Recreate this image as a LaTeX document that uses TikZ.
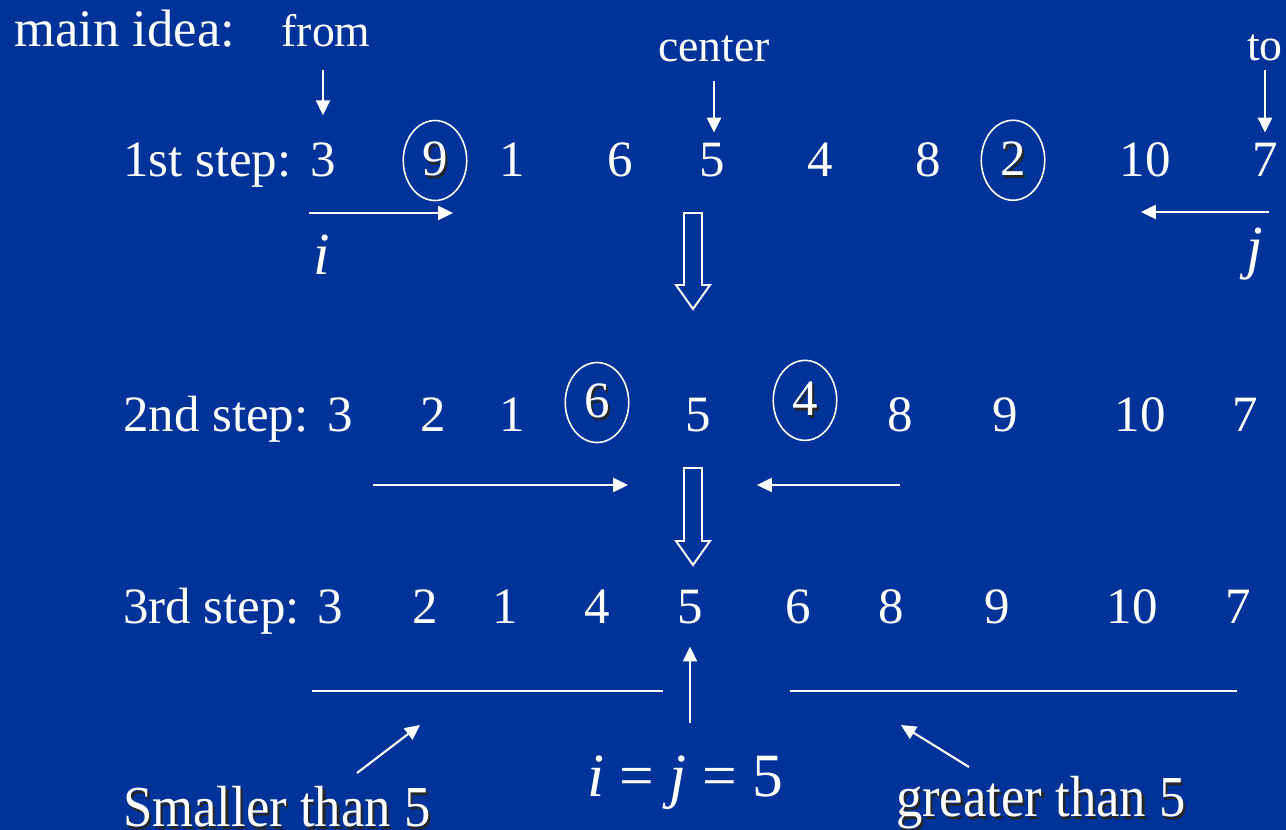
\documentclass[tikz,border=0pt]{standalone}
\usepackage{fontspec}
\setmainfont{Liberation Serif}
\usepackage{graphicx}
\usetikzlibrary{arrows.meta, shapes.geometric}
\definecolor{bgblue}{RGB}{0,51,153}
\tikzstyle{every node}=[text=white, inner sep=0pt, anchor=base]
\tikzstyle{lbl}=[font=\fontsize{29}{34}\selectfont, anchor=base west]
\tikzstyle{num}=[font=\fontsize{29}{34}\selectfont]
\tikzstyle{note}=[font=\fontsize{26}{30}\selectfont]
\tikzstyle{ring}=[num, draw=white, ellipse, line width=0.9pt, minimum width=1.27cm, minimum height=1.6cm]
\tikzstyle{hollow}=[draw=white, line width=1.1pt]
\newcommand{\txtshadow}[1]{\makebox[0pt][l]{\hspace{1.3pt}\raisebox{-1.3pt}{\textcolor{black!85}{#1}}}#1}

\begin{document}
\begin{tikzpicture}[x=0.02cm, y=-0.02cm, >={Triangle[length=8.5pt, width=8pt]}, white, line width=1.2pt]
            \path[use as bounding box, fill=bgblue] (0,0) rectangle (1286,830);
            % headings
            \node[lbl, font=\fontsize{30}{36}\selectfont] (idea) at (13,47) {main idea:};
            \node[note] (from) at (326,47) {from};
            \node[note] (mid) at (714,62) {center};
            \node[note] (to) at (1265,61) {to};
            % 1st step
            \node[lbl] (s1) at (122,177) {1st step:};
            \node[num] (a1) at (323,177) {3};
            \node[ring] (a2) at (435,176) {\txtshadow{9}};
            \node[num] (a3) at (512,177) {1};
            \node[num] (a4) at (620,177) {6};
            \node[num] (a5) at (712,177) {5};
            \node[num] (a6) at (820,177) {4};
            \node[num] (a7) at (928,177) {8};
            \node[ring] (a8) at (1013,176) {\txtshadow{2}};
            \node[num] (a9) at (1145,177) {10};
            \node[num] (a10) at (1265,177) {7};
            \node[num, font=\fontsize{34}{40}\selectfont\itshape] (i) at (322,275) {i};
            \node[num, font=\fontsize{34}{40}\selectfont\itshape] (j) at (1255,268) {j};
            % 2nd step
            \node[lbl] (s2) at (122,432) {2nd step:};
            \node[num] (b1) at (340,432) {3};
            \node[num] (b2) at (433,432) {2};
            \node[num] (b3) at (512,432) {1};
            \node[ring] (b4) at (597,418) {\txtshadow{6}};
            \node[num] (b5) at (698,432) {5};
            \node[ring] (b6) at (805,416) {\txtshadow{4}};
            \node[num] (b7) at (900,432) {8};
            \node[num] (b8) at (1005,432) {9};
            \node[num] (b9) at (1140,432) {10};
            \node[num] (b10) at (1245,432) {7};
            % 3rd step
            \node[lbl] (s3) at (122,624) {3rd step:};
            \node[num] (c1) at (330,624) {3};
            \node[num] (c2) at (425,624) {2};
            \node[num] (c3) at (505,624) {1};
            \node[num] (c4) at (597,624) {4};
            \node[num] (c5) at (690,624) {5};
            \node[num] (c6) at (798,624) {6};
            \node[num] (c7) at (891,624) {8};
            \node[num] (c8) at (997,624) {9};
            \node[num] (c9) at (1132,624) {10};
            \node[num] (c10) at (1238,624) {7};
            % bottom texts
            \node[num, font=\fontsize{35}{40}\selectfont] (eq) at (685,797) {\textit{i} = \textit{j} = 5};
            \node[lbl, font=\fontsize{30}{36}\selectfont] (small) at (122,827) {\scalebox{1}[1.1]{\txtshadow{Smaller than 5}}};
            \node[lbl, font=\fontsize{30}{36}\selectfont] (great) at (895,817) {\scalebox{1}[1.1]{\txtshadow{greater than 5}}};
            % free ends
            \coordinate (is) at (309,213);
            \coordinate (ie) at (453,213);
            \coordinate (js) at (1269,212);
            \coordinate (je) at (1141,212);
            \coordinate (ls) at (373,485);
            \coordinate (le) at (628,485);
            \coordinate (rs) at (900,485);
            \coordinate (re) at (757,485);
            \coordinate (la) at (312,691);
            \coordinate (lb) at (663,691);
            \coordinate (ra) at (790,691);
            \coordinate (rb) at (1237,691);
            \coordinate (sa) at (357,773);
            \coordinate (sb) at (420,725);
            \coordinate (ga) at (969,767);
            \coordinate (gb) at (901,725);
            \coordinate (h1) at (693,213);
            \coordinate (h2) at (693,468);
            % arrows
            \draw[->, shorten <=0.44cm, shorten >=0.54cm] (from.south -| a1) -- (a1.north);
            \draw[->, shorten <=0.36cm, shorten >=0.2cm] (mid.south) -- (mid.south |- a5.north);
            \draw[->, shorten <=0.16cm, shorten >=0.2cm] (to.south -| a10) -- (a10.north);
            \draw[->] (is) -- (ie);
            \draw[->] (js) -- (je);
            \draw[->] (ls) -- (le);
            \draw[->] (rs) -- (re);
            \draw (la) -- (lb);
            \draw (ra) -- (rb);
            \draw[->, shorten <=0.64cm, shorten >=0.42cm] (eq.north -| c5) -- (c5.south);
            \draw[->] (sa) -- (sb);
            \draw[->] (ga) -- (gb);
            \draw[hollow] (h1) ++(-9,0) -- ++(0,72) -- ++(-8,0) -- ++(17,24) -- ++(17,-24) -- ++(-8,0) -- ++(0,-72) -- cycle;
            \draw[hollow] (h2) ++(-9,0) -- ++(0,73) -- ++(-8,0) -- ++(17,24) -- ++(17,-24) -- ++(-8,0) -- ++(0,-73) -- cycle;
        \end{tikzpicture}
\end{document}
